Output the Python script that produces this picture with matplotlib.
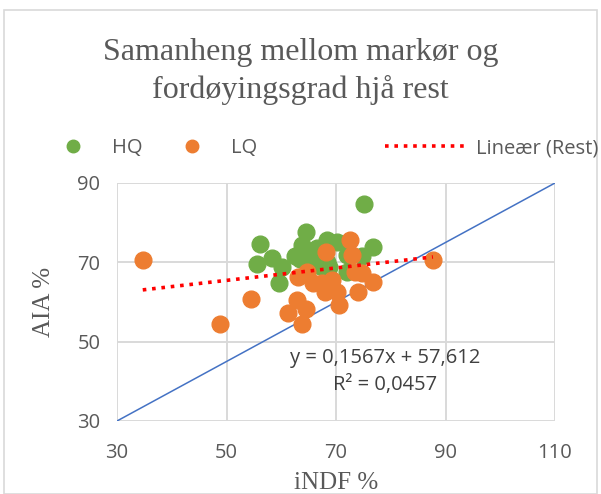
import matplotlib.pyplot as plt
import numpy as np
from matplotlib.lines import Line2D
from matplotlib.patches import Rectangle

# HQ points (iNDF %, AIA %)
hq_x = [75.1, 56.1, 55.6, 58.3, 60.1, 59.6, 64.5, 63.8, 62.5, 64.7, 66.5, 68.4,
        70.2, 66.2, 68.4, 72.0, 72.0, 74.7, 76.8, 63.5, 67.0, 68.7]
hq_y = [84.7, 74.6, 69.5, 71.0, 68.8, 64.7, 77.6, 74.3, 71.6, 72.6, 73.6, 75.6,
        75.1, 71.0, 70.1, 71.8, 67.6, 71.6, 73.8, 70.8, 69.0, 68.8]

# LQ points
lq_x = [34.7, 48.8, 54.5, 61.2, 62.9, 63.8, 64.5, 63.1, 64.7, 65.8, 68.2, 69.3,
        68.0, 70.2, 70.5, 72.6, 72.9, 73.5, 74.7, 74.0, 76.8, 87.7, 67.5, 69.0]
lq_y = [70.6, 54.4, 60.7, 57.2, 60.5, 54.4, 58.2, 66.2, 67.5, 64.7, 72.6, 65.5,
        62.5, 62.5, 59.2, 75.6, 71.8, 67.5, 67.3, 62.5, 65.0, 70.6, 64.8, 64.0]

# linear trend for all points (Rest), from the chart label
slope = 0.1567
intercept = 57.612
r2 = 0.0457

# reference line
ref_x = [30, 110]
ref_y = [30, 90]

fig = plt.figure(figsize=(6.01, 4.94), dpi=100)
ax = fig.add_axes([0.1947, 0.1478, 0.7288, 0.4818])

fig.patches.append(Rectangle((0.007, 0.0), 0.986, 0.98, transform=fig.transFigure,
                             fill=False, edgecolor='#D9D9D9', linewidth=1.2))

ax.scatter(hq_x, hq_y, s=145, color='#70AD47', zorder=3)
ax.scatter(lq_x, lq_y, s=145, color='#ED7D31', zorder=3)

all_x = np.array(hq_x + lq_x)
tx = np.array([all_x.min(), all_x.max()])
ax.plot(tx, slope * tx + intercept, color='red', linestyle=(0, (1, 1.6)),
        linewidth=2.6, zorder=4)
ax.plot(ref_x, ref_y, color='#4472C4', linewidth=1.1, zorder=2)

ax.set_xlim(30, 110)
ax.set_ylim(30, 90)
ax.set_xticks([30, 50, 70, 90, 110])
ax.set_yticks([30, 50, 70, 90])
ax.grid(True, color='#D9D9D9', linewidth=1.4)
ax.set_axisbelow(True)
for s in ax.spines.values():
    s.set_visible(False)
ax.tick_params(length=0, labelsize=14.5, labelcolor='#595959')
ax.tick_params(axis='x', pad=16)
ax.tick_params(axis='y', pad=12)
for lab in ax.get_xticklabels() + ax.get_yticklabels():
    lab.set_family('Open Sans')

ax.set_xlabel('iNDF %', family='Liberation Serif', fontsize=18, color='#595959', labelpad=6)
ax.set_ylabel('AIA %', family='Liberation Serif', fontsize=18, color='#595959', labelpad=16)

eq = 'y = 0,{:04d}x + {}'.format(int(round(slope * 10000)), str(intercept).replace('.', ','))
ax.text(79, 46.0, eq, ha='center', va='center', fontsize=14.5, color='#404040',
        family='Open Sans')
ax.text(79, 39.0, 'R² = ' + str(r2).replace('.', ','), ha='center', va='center',
        fontsize=14.5, color='#404040', family='Open Sans')

fig.text(0.5, 0.893, 'Samanheng mellom markør og', ha='center', va='center',
         family='Liberation Serif', fontsize=23, color='#595959')
fig.text(0.5, 0.817, 'fordøyingsgrad hjå rest', ha='center', va='center',
         family='Liberation Serif', fontsize=23, color='#595959')

h1 = [Line2D([], [], marker='o', linestyle='none', color='#70AD47', markersize=9),
      Line2D([], [], marker='o', linestyle='none', color='#ED7D31', markersize=9)]
leg1 = fig.legend(h1, ['HQ', 'LQ'], loc='center left', bbox_to_anchor=(0.075, 0.70),
                  ncol=2, frameon=False, columnspacing=2.0, handlelength=1.0,
                  handletextpad=1.4, prop={'family': 'Open Sans', 'size': 14.5})
for t in leg1.get_texts():
    t.set_color('#595959')
h2 = [Line2D([], [], color='red', linestyle=(0, (1, 1.6)), linewidth=2.6)]
leg2 = fig.legend(h2, ['Lineær (Rest)'], loc='center right', bbox_to_anchor=(1.025, 0.70),
                  frameon=False, handlelength=4.2, handletextpad=0.3,
                  prop={'family': 'Open Sans', 'size': 14.5})
for t in leg2.get_texts():
    t.set_color('#595959')

plt.savefig('out.png', dpi=100)
